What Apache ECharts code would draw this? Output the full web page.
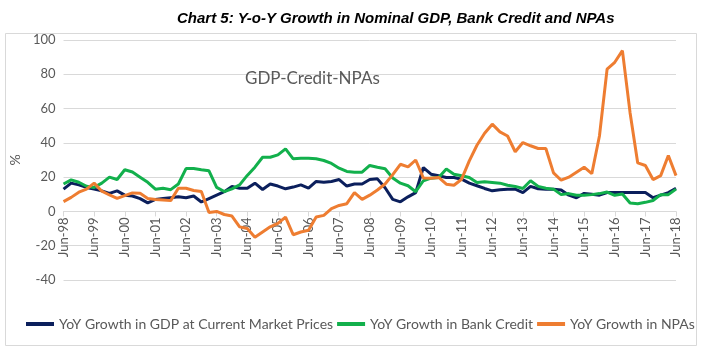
<!DOCTYPE html>
<html>
<head>
<meta charset="utf-8">
<script src="https://cdn.jsdelivr.net/npm/echarts@6/dist/echarts.min.js"></script>
<style>html,body{margin:0;padding:0;background:#fff;}#c{width:701px;height:359px;}</style>
</head>
<body>
<div id="c"></div>
<script>
// Quarter labels: Jun-98 ... Jun-18 (quarterly)
const quarterMonths = ['Jun', 'Sep', 'Dec', 'Mar'];
const startYear = 1998, endYear = 2018;
const categories = [];
for (let y = startYear; y <= endYear; y++) {
  for (let q = 0; q < 4; q++) {
    const yr = q === 3 ? y + 1 : y;
    if (y === endYear && q > 0) break;
    categories.push(quarterMonths[q] + '-' + String(yr % 100).padStart(2, '0'));
  }
}
const yTicks = [-40, -20, 0, 20, 40, 60, 80, 100];

const gdpGrowth = [13, 16.5, 15.5, 14, 13, 12, 10.5, 12, 9.5, 9, 7.5, 5, 7, 7.5, 8, 8.5, 8, 9, 5.5, 7.5,
  9.5, 11.5, 14.5, 13.5, 13.5, 16.5, 12.8, 16, 14.8, 13.2, 14.2, 15.5, 13.6, 17.5, 17, 17.5, 18.6, 14.8, 16, 16,
  18.6, 19, 13.8, 7, 5.6, 8.5, 11, 25.6, 21.7, 20.8, 19.8, 19.8, 18.8, 16.5, 15, 13.4, 12, 12.6, 13, 13,
  11, 14.6, 13.2, 13, 13, 12.5, 9.5, 8, 10.5, 10, 9.5, 11, 11, 11, 11, 11, 11, 8, 9.5, 11, 13.5];

const creditGrowth = [16, 18.4, 17, 14.7, 14, 16.5, 20, 18.6, 24.3, 23, 20, 17, 13, 13.5, 12.7, 16, 25, 25, 24.3, 23.7,
  14, 11.6, 13.2, 15.5, 21, 25.8, 31.6, 31.6, 33, 36.5, 30.7, 31, 31, 30.7, 29.7, 28, 25.2, 23.3, 22.9, 22.9,
  26.8, 25.8, 24.9, 19.5, 16.5, 15, 11.5, 17.9, 19.4, 19.8, 24.7, 21.7, 20.8, 19.8, 16.9, 17.3, 16.9, 16.5, 15.3, 14.6,
  13.4, 17.9, 14.6, 13.5, 13, 9.8, 10.4, 9.4, 9.4, 9.8, 10.4, 11.3, 9.4, 10.2, 4.9, 4.5, 5.3, 6.4, 9.8, 9.8, 13];

const npaGrowth = [5.7, 8.2, 11.2, 13, 16.5, 11.8, 9.6, 7.6, 9.2, 10.8, 10.6, 7.6, 6.9, 6.7, 6.3, 13.5, 13.5, 12.2, 11.6, -0.6,
  0, -1.8, -2.7, -9, -10, -15, -12, -9, -7, -3.3, -13.6, -12, -11, -3.3, -2.3, 1.6, 3.5, 4.5, 11, 7,
  9.5, 12.5, 16, 21.5, 27.5, 26, 30, 19.5, 19.4, 19.8, 15.9, 15.3, 18.8, 29.5, 38.6, 45.6, 50.9, 46.4, 44, 34.8,
  40.2, 38.3, 36.7, 36.7, 22.5, 18.2, 20, 22.9, 25.8, 22, 44, 83, 87, 93.8, 57.6, 28.3, 26.8, 18.6, 20.9, 32.6, 20.9];

const seriesNames = ['YoY Growth in GDP at Current Market Prices', 'YoY Growth in Bank Credit', 'YoY Growth in NPAs'];
const seriesColors = ['#0b1f5c', '#12b04c', '#ee7d31'];
const seriesData = [gdpGrowth, creditGrowth, npaGrowth];

const gridTop = 40, gridBottom = 79, chartH = 359;
const plotH = chartH - gridTop - gridBottom;
const zeroOffset = -plotH * (0 - yTicks[0]) / (yTicks[yTicks.length - 1] - yTicks[0]);

const chart = echarts.init(document.getElementById('c'));
chart.setOption({
  animation: false,
  backgroundColor: '#fff',
  title: [
    { text: 'Chart 5: Y-o-Y Growth in Nominal GDP, Bank Credit and NPAs', left: 172, top: 6,
      textStyle: { fontFamily: 'Liberation Sans', fontStyle: 'italic', fontWeight: 'bold', fontSize: 15, color: '#000' } },
    { text: 'GDP-Credit-NPAs', left: 240, top: 65,
      textStyle: { fontFamily: 'Lato', fontWeight: 'normal', fontSize: 17, color: '#595959' } }
  ],
  graphic: [
    { type: 'rect', shape: { x: 5.5, y: 33.5, width: 691, height: 312 }, style: { fill: 'none', stroke: '#d9d9d9', lineWidth: 1 }, silent: true }
  ],
  grid: { left: 50, right: 25, top: gridTop, bottom: gridBottom, containLabel: false },
  legend: {
    left: 21, top: 312, itemWidth: 28, itemHeight: 4, itemGap: 4, icon: 'rect',
    textStyle: { fontFamily: 'Lato', fontSize: 14, color: '#595959' },
    data: seriesNames
  },
  xAxis: {
    type: 'category', data: categories, boundaryGap: false,
    offset: zeroOffset,
    axisLine: { onZero: false, lineStyle: { color: '#d9d9d9', width: 1 } },
    axisTick: { show: true, interval: 3, length: 5, lineStyle: { color: '#d9d9d9' } },
    axisLabel: { interval: 3, rotate: 90, color: '#595959', fontFamily: 'Lato', fontSize: 13, margin: 6 },
    splitLine: { show: false }
  },
  yAxis: {
    type: 'value', min: yTicks[0], max: yTicks[yTicks.length - 1], interval: 20,
    name: '%', nameLocation: 'middle', nameRotate: 90, nameGap: 28,
    nameTextStyle: { color: '#595959', fontFamily: 'Lato', fontSize: 14 },
    axisLine: { show: false }, axisTick: { show: false },
    axisLabel: { color: '#595959', fontFamily: 'Lato', fontSize: 13, margin: 8 },
    splitLine: { lineStyle: { color: '#d9d9d9', width: 1 } }
  },
  series: seriesData.map((d, i) => ({
    name: seriesNames[i], type: 'line', data: d, showSymbol: false, symbol: 'none',
    lineStyle: { color: seriesColors[i], width: 3 }, itemStyle: { color: seriesColors[i] },
    z: 3 + i
  }))
});
</script>
</body>
</html>
